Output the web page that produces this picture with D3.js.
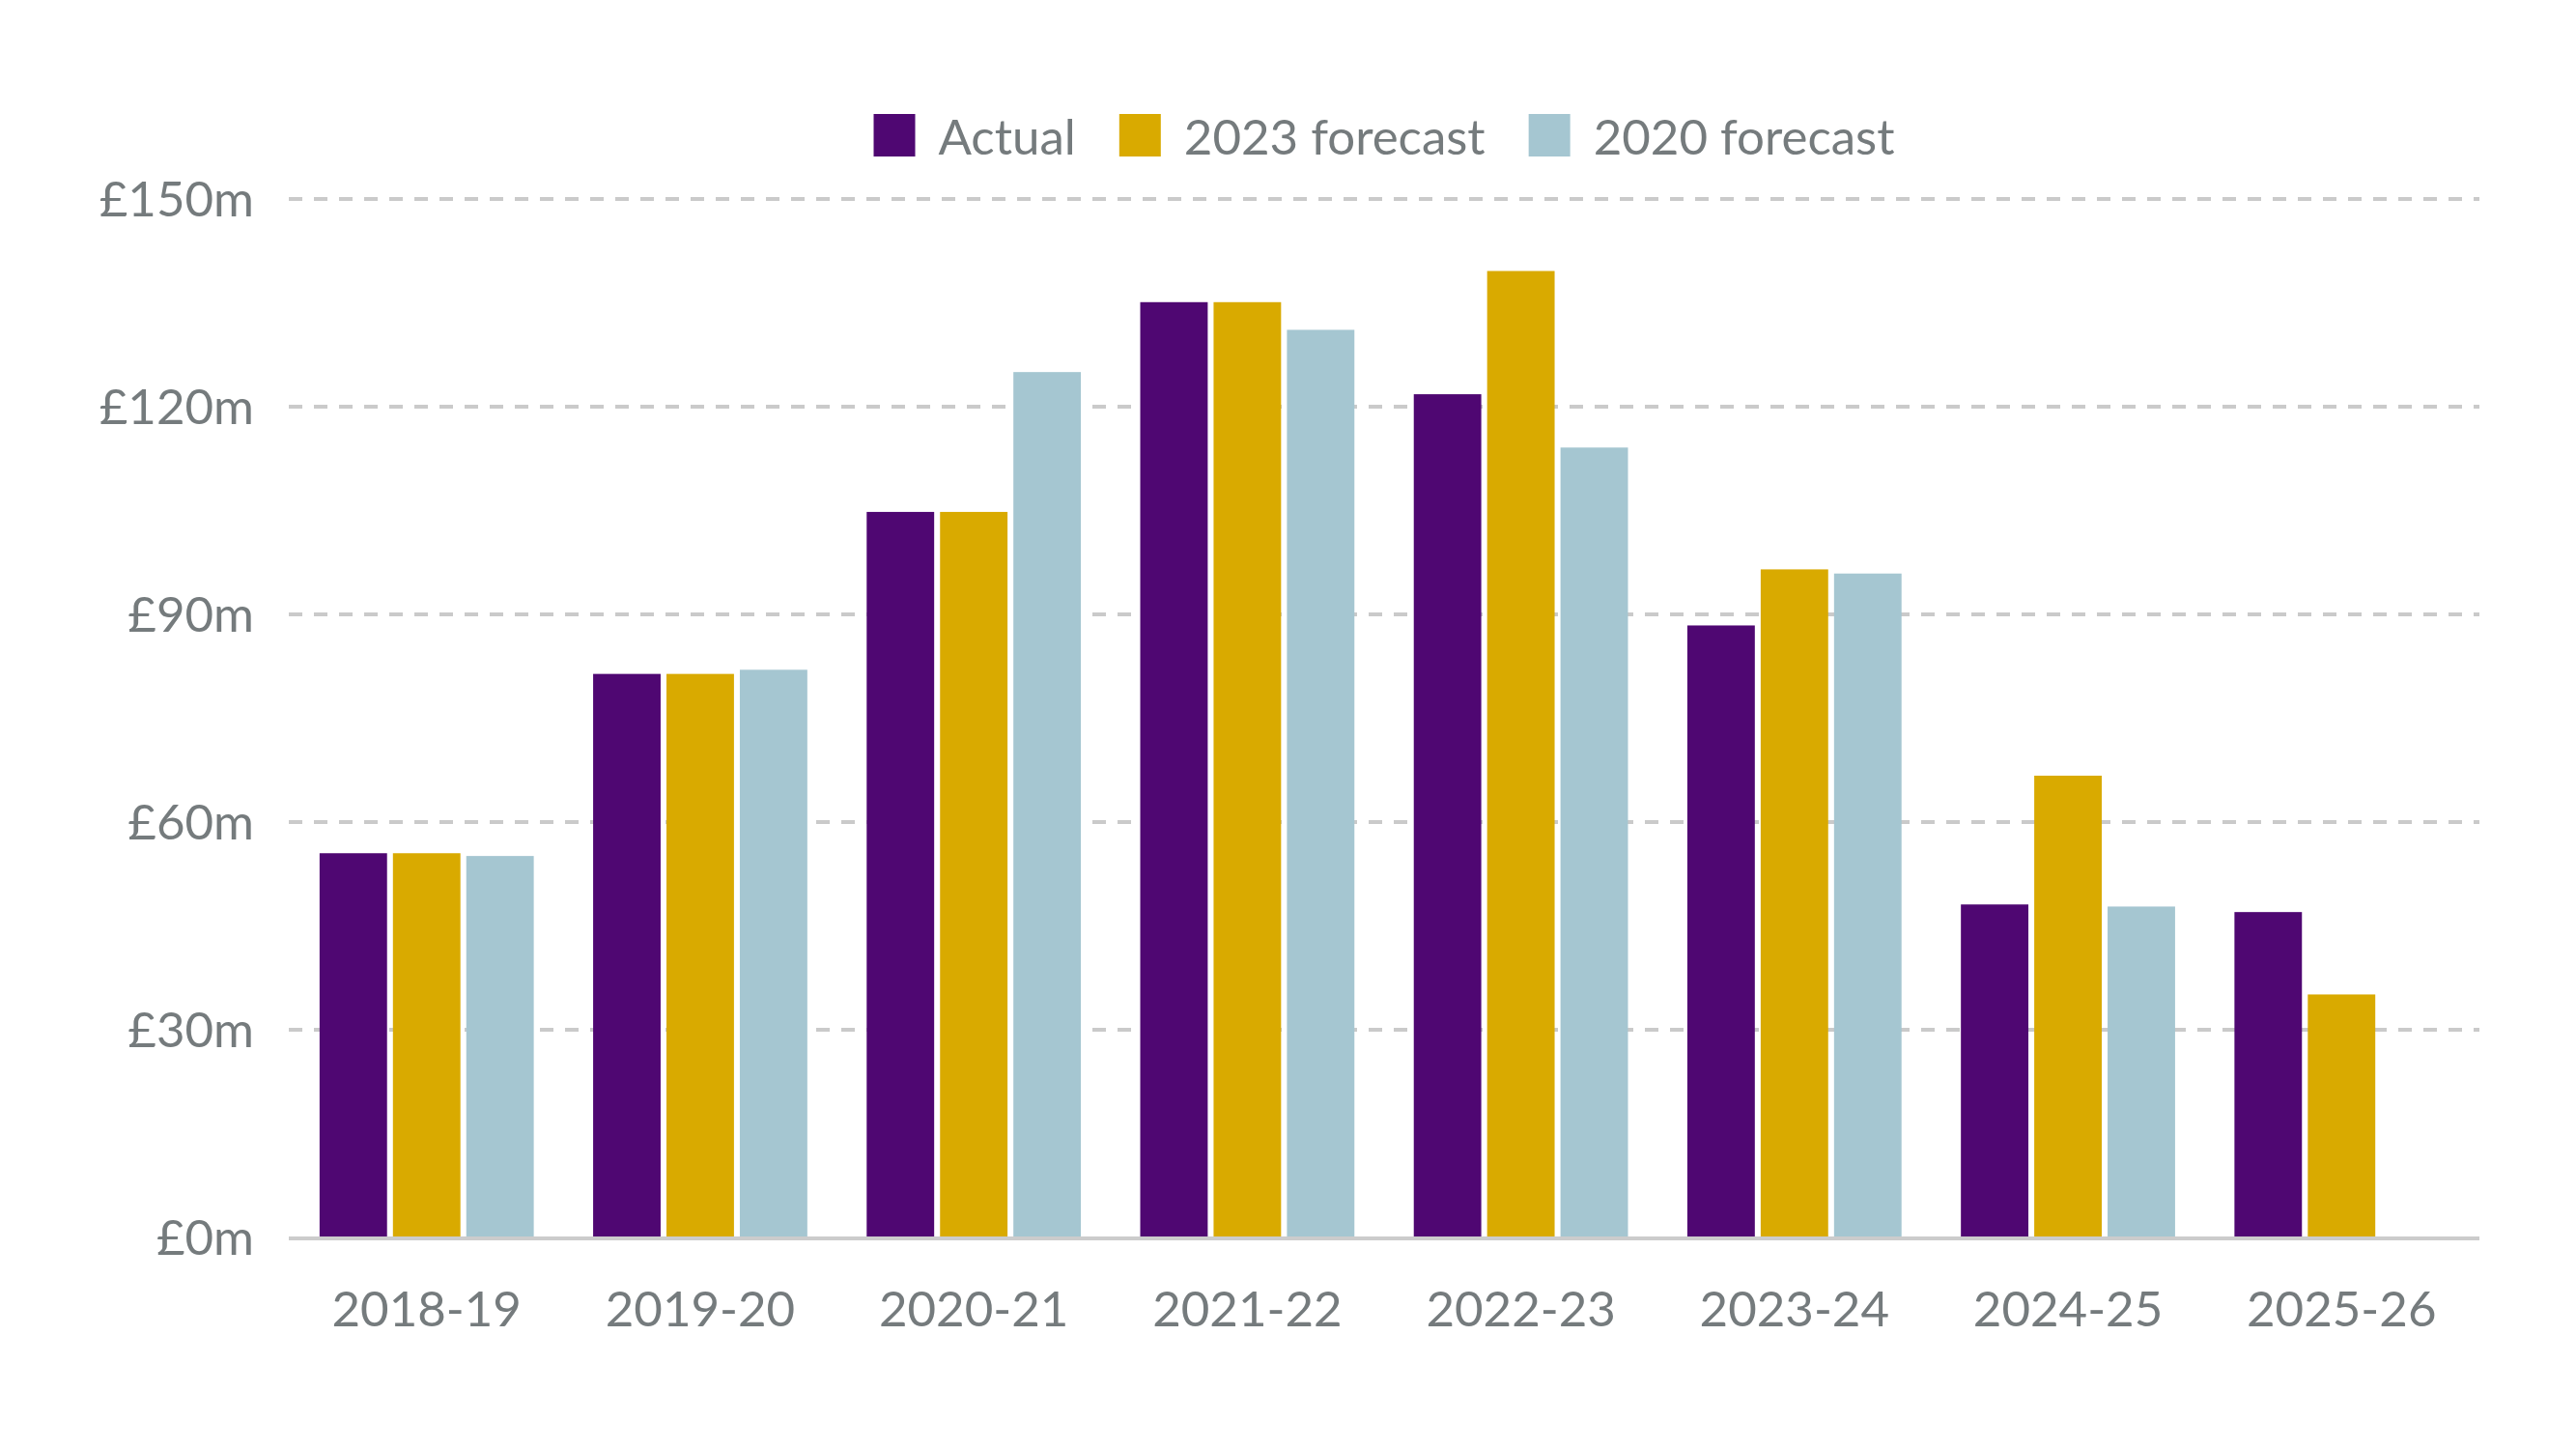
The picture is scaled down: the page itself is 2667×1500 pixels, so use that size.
<!DOCTYPE html>
<html>
<head>
<meta charset="utf-8">
<script src="https://cdn.jsdelivr.net/npm/d3@7"></script>
<style>
  html, body { margin: 0; padding: 0; background: #ffffff; }
  svg { display: block; }
  text { font-family: Lato, "Open Sans", sans-serif; fill: #757b7d; }
</style>
</head>
<body>
<svg id="chart" width="2667" height="1500"></svg>
<script>
const categories = ["2018-19", "2019-20", "2020-21", "2021-22", "2022-23", "2023-24", "2024-25", "2025-26"];
const seriesNames = ["Actual", "2023 forecast", "2020 forecast"];
const actual      = [55.5, 81.4, 104.8, 135.1, 121.8, 88.4, 48.1, 47.0];
const forecast2023 = [55.5, 81.4, 104.8, 135.1, 139.6, 96.5, 66.7, 35.1];
const forecast2020 = [55.1, 82.0, 125.0, 131.1, 114.1, 95.9, 47.8, null];
const yTicks = [0, 30, 60, 90, 120, 150];
const colors = ["#4f0772", "#d9aa00", "#a5c6d1"];

const seriesValues = [actual, forecast2023, forecast2020];

const svg = d3.select("#chart");
const margin = { left: 299, right: 2667 - 2567, top: 206, bottom: 1500 - 1281 };
const width = 2667, height = 1500;

const x0 = d3.scaleBand()
  .domain(categories)
  .range([margin.left, width - margin.right])
  .paddingInner(0.217)
  .paddingOuter(0.1125);

const x1 = d3.scaleBand()
  .domain(seriesNames)
  .range([0, x0.bandwidth()])
  .paddingInner(0.08)
  .paddingOuter(0);

const y = d3.scaleLinear()
  .domain([0, 150])
  .range([height - margin.bottom, margin.top]);

// gridlines
const grid = svg.append("g").attr("class", "grid");
grid.selectAll("line")
  .data(yTicks.filter(d => d > 0))
  .join("line")
  .attr("x1", margin.left)
  .attr("x2", width - margin.right)
  .attr("y1", d => y(d))
  .attr("y2", d => y(d))
  .attr("stroke", "#cacaca")
  .attr("stroke-width", 4)
  .attr("stroke-dasharray", "14,12");

// y axis labels
const yAxis = d3.axisLeft(y)
  .tickValues(yTicks)
  .tickSize(0)
  .tickPadding(0)
  .tickFormat(d => "£" + d + "m");
const yg = svg.append("g")
  .attr("transform", `translate(${263},0)`)
  .call(yAxis);
yg.select(".domain").remove();
yg.selectAll("text")
  .attr("font-size", 51)
  .attr("font-family", "Lato, sans-serif")
  .attr("fill", "#757b7d")
  .attr("dy", "0.35em");

// bars
const data = categories.map((c, i) => ({
  cat: c,
  vals: seriesNames.map((s, j) => ({ key: s, idx: j, value: seriesValues[j][i] }))
}));

const groups = svg.append("g").selectAll("g")
  .data(data)
  .join("g")
  .attr("transform", d => `translate(${x0(d.cat)},0)`);

groups.selectAll("rect")
  .data(d => d.vals.filter(v => v.value != null))
  .join("rect")
  .attr("x", d => x1(d.key))
  .attr("width", x1.bandwidth())
  .attr("y", d => y(d.value))
  .attr("height", d => y(0) - y(d.value))
  .attr("fill", d => colors[d.idx]);

// baseline
svg.append("line")
  .attr("x1", margin.left)
  .attr("x2", width - margin.right)
  .attr("y1", y(0) + 1)
  .attr("y2", y(0) + 1)
  .attr("stroke", "#cccccc")
  .attr("stroke-width", 4);

// x axis labels
const xAxis = d3.axisBottom(x0).tickSize(0).tickPadding(0);
const xg = svg.append("g")
  .attr("transform", `translate(0,${1373})`)
  .call(xAxis);
xg.select(".domain").remove();
xg.selectAll("text")
  .attr("font-size", 51)
  .attr("font-family", "Lato, sans-serif")
  .attr("fill", "#757b7d")
  .attr("dy", 0)
  .attr("y", 0);

// legend
const legend = svg.append("g").attr("class", "legend");
const sq = 43, textGap = 24, itemGap = 45;
const items = legend.selectAll("g")
  .data(seriesNames)
  .join("g");
items.append("rect")
  .attr("width", sq)
  .attr("height", 44)
  .attr("y", 118)
  .attr("fill", (d, i) => colors[i]);
items.append("text")
  .attr("x", sq + textGap)
  .attr("y", 160)
  .attr("font-size", 51)
  .text(d => d);
let xpos = 0;
const offsets = [];
items.each(function() {
  const tw = d3.select(this).select("text").node().getComputedTextLength();
  offsets.push(xpos);
  xpos += sq + textGap + tw + itemGap;
});
const total = xpos - itemGap;
const start = (margin.left + width - margin.right) / 2 - total / 2;
items.attr("transform", (d, i) => `translate(${start + offsets[i]},0)`);
</script>
</body>
</html>
